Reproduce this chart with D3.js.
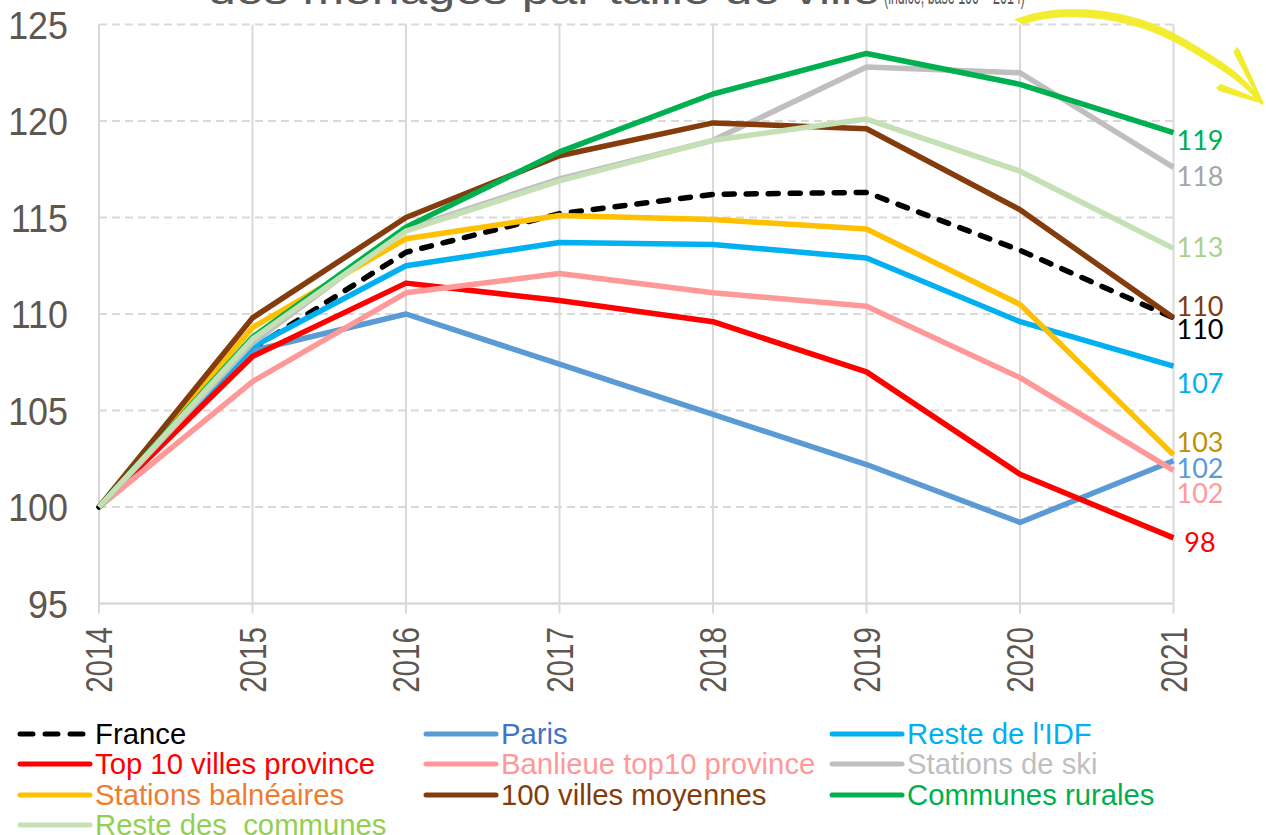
<!DOCTYPE html>
<html lang="fr">
<head>
<meta charset="utf-8">
<script src="https://cdn.jsdelivr.net/npm/d3@7"></script>
<style>
  html, body { margin: 0; padding: 0; background: #ffffff; }
  svg { display: block; }
</style>
</head>
<body>
<svg id="chart" width="1266" height="835"></svg>
<script>
// Années et séries (indice base 100 = 2014)
const years = [2014, 2015, 2016, 2017, 2018, 2019, 2020, 2021];
const yTicks = [95, 100, 105, 110, 115, 120, 125];

const seriesNames = [
  "France", "Paris", "Reste de l'IDF", "Top 10 villes province",
  "Banlieue top10 province", "Stations de ski", "Stations balnéaires",
  "100 villes moyennes", "Communes rurales", "Reste des  communes"
];

const france      = [100, 108.2, 113.2, 115.2, 116.2, 116.3, 113.3, 109.8];
const paris       = [100, 108.1, 110.0, 107.4, 104.8, 102.2,  99.2, 102.4];
const resteIdf    = [100, 108.3, 112.5, 113.7, 113.6, 112.9, 109.6, 107.3];
const top10       = [100, 107.8, 111.6, 110.7, 109.6, 107.0, 101.7,  98.4];
const banlieue    = [100, 106.5, 111.1, 112.1, 111.1, 110.4, 106.7, 101.9];
const ski         = [100, 108.5, 114.4, 117.0, 119.0, 122.8, 122.5, 117.6];
const balneaires  = [100, 109.3, 113.9, 115.1, 114.9, 114.4, 110.5, 102.7];
const villesMoy   = [100, 109.8, 115.0, 118.2, 119.9, 119.6, 115.4, 109.8];
const rurales     = [100, 108.8, 114.5, 118.4, 121.4, 123.5, 121.9, 119.4];
const resteCommunes = [100, 108.7, 114.3, 116.9, 119.0, 120.1, 117.4, 113.4];

const seriesValues = [france, paris, resteIdf, top10, banlieue, ski,
                      balneaires, villesMoy, rurales, resteCommunes];

// Styles
const lineColors  = ["#000000", "#5B9BD5", "#00B0F0", "#FF0000", "#FF9999",
                     "#BFBFBF", "#FFC000", "#843C0C", "#00B050", "#C5E0B4"];
const legendTextColors = ["#000000", "#4472C4", "#00B0F0", "#FF0000", "#FF9999",
                          "#BFBFBF", "#ED7D31", "#843C0C", "#00B050", "#92D050"];
const endLabelColors = ["#000000", "#5B9BD5", "#00B0F0", "#FF0000", "#FF9999",
                        "#A6A6A6", "#BF9000", "#843C0C", "#00B050", "#A9D18E"];
// vertical nudge of the end labels so they do not collide
const endLabelNudge = [21, 17, 27, 14, 33, 19, -3, -2, 17, 9];

const svg = d3.select("#chart");
const x = d3.scalePoint().domain(years).range([99, 1173.5]);
const y = d3.scaleLinear().domain([95, 125]).range([603.5, 24.5]);

const grid = svg.append("g");
// horizontal dashed gridlines
grid.selectAll("line.h").data(yTicks.filter(v => v !== 95)).join("line")
  .attr("x1", x(2014)).attr("x2", x(2021))
  .attr("y1", d => y(d)).attr("y2", d => y(d))
  .attr("stroke", "#D9D9D9").attr("stroke-width", 2)
  .attr("stroke-dasharray", "8,5");
// vertical gridlines, extending below the axis as tick marks
grid.selectAll("line.v").data(years).join("line")
  .attr("x1", d => x(d)).attr("x2", d => x(d))
  .attr("y1", y(125)).attr("y2", y(95) + 10)
  .attr("stroke", "#D9D9D9").attr("stroke-width", 2);
// baseline
grid.append("line")
  .attr("x1", x(2014)).attr("x2", x(2021))
  .attr("y1", y(95)).attr("y2", y(95))
  .attr("stroke", "#D9D9D9").attr("stroke-width", 2.5);

// y axis labels
svg.append("g").selectAll("text").data(yTicks).join("text")
  .attr("transform", d => `translate(68,${y(d)}) scale(0.92,1)`)
  .attr("dy", "0.36em")
  .attr("text-anchor", "end")
  .attr("font-family", "'Liberation Sans', Arial, sans-serif")
  .attr("font-size", 39)
  .attr("fill", "#5F574F")
  .text(d => d);

// x axis labels (rotated)
svg.append("g").selectAll("text").data(years).join("text")
  .attr("transform", d => `translate(${x(d) + 13},627) rotate(-90) scale(0.8,1)`)
  .attr("text-anchor", "end")
  .attr("font-family", "'Liberation Sans', Arial, sans-serif")
  .attr("font-size", 37)
  .attr("fill", "#5F574F")
  .text(d => d);

// series lines
const line = d3.line().x((d, i) => x(years[i])).y(d => y(d));
svg.append("g").selectAll("path").data(seriesValues).join("path")
  .attr("d", d => line(d))
  .attr("fill", "none")
  .attr("stroke", (d, i) => lineColors[i])
  .attr("stroke-width", 5.5)
  .attr("stroke-linejoin", "round")
  .attr("stroke-linecap", (d, i) => i === 0 ? "round" : "butt")
  .attr("stroke-dasharray", (d, i) => i === 0 ? "10,12" : null);

// end labels
svg.append("g").selectAll("text").data(seriesValues).join("text")
  .attr("x", 1200)
  .attr("y", (d, i) => y(d[d.length - 1]) + endLabelNudge[i])
  .attr("text-anchor", "middle")
  .attr("font-family", "Lato, 'Open Sans', sans-serif")
  .attr("font-size", 27)
  .attr("fill", (d, i) => endLabelColors[i])
  .text(d => d3.format(".0f")(d[d.length - 1]));

// legend (3 columns, row-major)
const legend = svg.append("g");
const colX = [18, 424, 830];
const rowY = [734, 764, 795, 825];
seriesNames.forEach((name, i) => {
  const cx = colX[i % 3], cy = rowY[Math.floor(i / 3)];
  legend.append("line")
    .attr("x1", cx + 2).attr("x2", cx + 72)
    .attr("y1", cy).attr("y2", cy)
    .attr("stroke", lineColors[i]).attr("stroke-width", 5)
    .attr("stroke-linecap", "round")
    .attr("stroke-dasharray", i === 0 ? "13,12" : null);
  legend.append("text")
    .attr("x", cx + 77).attr("y", cy + 10)
    .attr("font-family", "'Liberation Sans', Arial, sans-serif")
    .attr("font-size", 29.3)
    .attr("fill", legendTextColors[i])
    .attr("xml:space", "preserve")
    .text(name);
});

// title (partly above the visible area)
svg.append("text")
  .attr("x", 208).attr("y", 4)
  .attr("font-family", "'Liberation Sans', Arial, sans-serif")
  .attr("font-size", 40)
  .attr("fill", "#595959")
  .attr("textLength", 672).attr("lengthAdjust", "spacingAndGlyphs")
  .text("des ménages par taille de ville");
svg.append("text")
  .attr("x", 884).attr("y", 4)
  .attr("font-family", "'Liberation Sans', Arial, sans-serif")
  .attr("font-size", 26)
  .attr("fill", "#595959")
  .attr("textLength", 141).attr("lengthAdjust", "spacingAndGlyphs")
  .text("(indice, base 100 = 2014)");

// hand-drawn highlighter arrow
const arrow = svg.append("g").attr("fill", "none")
  .attr("stroke", "#F2EC2C").attr("stroke-linecap", "round");
const offsets = [-4, -3, -2, -1, 0, 1, 2, 3];
offsets.forEach((o, k) => {
  arrow.append("path")
    .attr("d", `M${1016 + k},${22 + o * 0.6} C1050,${10 + o} 1120,${6 + o} 1185,${44 + o} S1245,${86 + o * 0.7} 1262,${103 + o * 0.3}`)
    .attr("stroke-width", 1.8).attr("opacity", 0.9);
  arrow.append("path")
    .attr("d", `M${1237 + o * 0.7},${48 + Math.abs(o)} L${1262 + o * 0.2},103`)
    .attr("stroke-width", 1.8).attr("opacity", 0.9);
  arrow.append("path")
    .attr("d", `M${1217 + Math.abs(o)},${88 + o * 0.8} L1262,${102 + o * 0.2}`)
    .attr("stroke-width", 1.8).attr("opacity", 0.9);
});
</script>
</body>
</html>
